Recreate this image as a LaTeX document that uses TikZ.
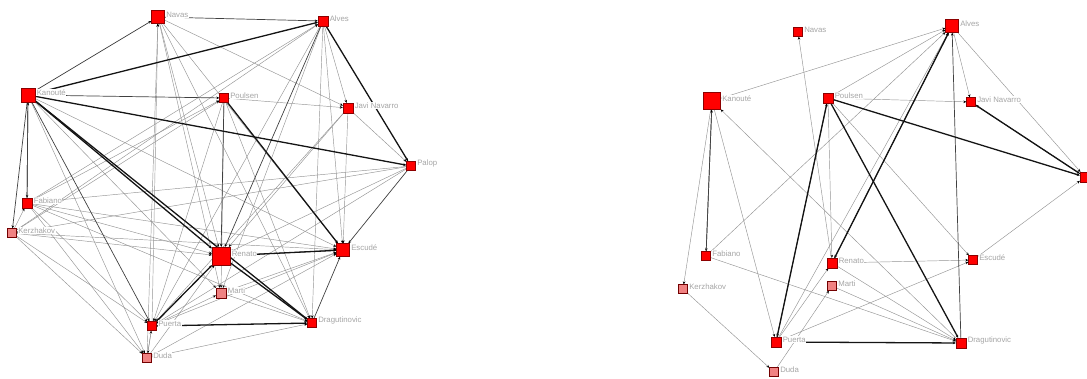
\documentclass[tikz,border=0pt]{standalone}
\usepackage{fontspec}
\setmainfont{Liberation Sans}
\usetikzlibrary{arrows.meta}
\begin{document}
\begin{tikzpicture}[x=1pt,y=-1pt,
  nd/.style={rectangle, draw=red!55!black, line width=0.3pt, fill=red, inner sep=0pt, minimum size=#1},
  pk/.style={rectangle, draw=red!45!black, line width=0.3pt, fill={rgb,255:red,240;green,130;blue,130}, inner sep=0pt, minimum size=#1},
  lab/.style={font=\fontsize{7.8}{8}\selectfont, text=gray!70, fill=white, inner sep=0.4pt, anchor=west},
  tip/.style={-{Stealth[length=3pt,width=2.6pt,black]}},
  ethin/.style={draw=black!42, line width=0.45pt, tip},
  emed/.style={draw=black!75, line width=0.7pt, tip},
  ethick/.style={draw=black!92, line width=1.3pt, tip},
]
\useasboundingbox (0,0) rectangle (1087,378);

% ---------------- left graph nodes ----------------
\node[nd=13] (lN) at (158,17) {};
\node[nd=10] (lA) at (323,21) {};
\node[nd=14] (lK) at (28,95) {};
\node[nd=9]  (lP) at (224,98) {};
\node[nd=10] (lJ) at (348,108) {};
\node[nd=9]  (lL) at (411,166) {};
\node[nd=10] (lF) at (27,203) {};
\node[pk=9]  (lZ) at (12,233) {};
\node[nd=18] (lR) at (221,256) {};
\node[nd=13] (lE) at (343,250) {};
\node[pk=10] (lM) at (221,293) {};
\node[nd=9]  (lD) at (312,323) {};
\node[nd=9]  (lU) at (152,326) {};
\node[pk=9]  (lQ) at (147,358) {};

% ---------------- right graph nodes ----------------
\node[nd=9]  (rN) at (798,32) {};
\node[nd=13] (rA) at (952,26) {};
\node[nd=17] (rK) at (712,101) {};
\node[nd=10] (rP) at (828,98) {};
\node[nd=9]  (rJ) at (971,102) {};
\node[nd=10] (rL) at (1085,177) {};
\node[nd=9]  (rF) at (706,256) {};
\node[pk=9]  (rZ) at (683,289) {};
\node[nd=10] (rR) at (832,263) {};
\node[nd=9]  (rE) at (973,260) {};
\node[pk=9]  (rM) at (832,286) {};
\node[nd=10] (rD) at (961,343) {};
\node[nd=10] (rU) at (776,342) {};
\node[pk=9]  (rQ) at (774,372) {};

% ---------------- left edges ----------------
\foreach \a/\b in {K/Q,K/E,K/M,U/N,N/R,N/D,N/E,N/J,N/M,P/J,A/J,J/L,J/R,J/U,L/Z,L/R,L/U,L/F,
  P/U,P/M,P/D,A/U,A/M,A/D,A/E,F/A,F/P,Z/A,Z/P,F/R,F/E,F/D,F/U,F/Q,Z/R,Z/E,Z/U,Z/Q,
  U/E,U/M,Q/U,Q/D,Q/E,Q/R,M/E,M/D,U/Q,Z/F,J/E,Q/N}
  \draw[ethin] (l\a) -- (l\b);
\foreach \a/\b in {K/N,N/A,K/P,K/F,F/K,K/Z,K/U,P/R,A/R,L/E,D/E,E/R}
  \draw[emed] (l\a) -- (l\b);
\foreach \a/\b in {K/A,K/L,K/R,K/D,A/L,P/E,U/R,U/D,R/D,R/E}
  \draw[ethick] (l\a) -- (l\b);

% ---------------- right edges ----------------
\foreach \a/\b in {K/A,F/A,K/Z,K/U,D/K,F/D,Z/Q,Q/M,U/R,U/A,U/E,R/E,P/R,R/D,R/N,P/J,P/A,P/E,A/J,A/L,E/L,M/D}
  \draw[ethin] (r\a) -- (r\b);
\foreach \a/\b in {K/F,F/K,P/U,A/R,D/A,L/J}
  \draw[emed] (r\a) -- (r\b);
\foreach \a/\b in {U/P,U/D,R/A,P/L,P/D,J/L}
  \draw[ethick] (r\a) -- (r\b);

% ---------------- labels ----------------
\foreach \n/\t in {lN/Navas,lA/Alves,lK/Kanouté,lP/Poulsen,lJ/Javi Navarro,lL/Palop,lF/Fabiano,lZ/Kerzhakov,
  lR/Renato,lE/Escudé,lM/Marti,lD/Dragutinovic,lU/Puerta,lQ/Duda,
  rN/Navas,rA/Alves,rK/Kanouté,rP/Poulsen,rJ/Javi Navarro,rF/Fabiano,rZ/Kerzhakov,
  rR/Renato,rE/Escudé,rM/Marti,rD/Dragutinovic,rU/Puerta,rQ/Duda}
  \node[lab] (\n lab) at ([xshift=1pt,yshift=2.5pt]\n.east) {\t};

% nodes on top of edges and labels
\foreach \n/\s in {lN/13,lA/10,lK/14,lP/9,lJ/10,lL/9,lF/10,lR/18,lE/13,lD/9,lU/9,
  rN/9,rA/13,rK/17,rP/10,rJ/9,rL/10,rF/9,rR/10,rE/9,rD/10,rU/10}
  \node[nd=\s] at (\n) {};
\foreach \n/\s in {lZ/9,lM/10,lQ/9,rZ/9,rM/9,rQ/9}
  \node[pk=\s] at (\n) {};
\end{tikzpicture}
\end{document}
